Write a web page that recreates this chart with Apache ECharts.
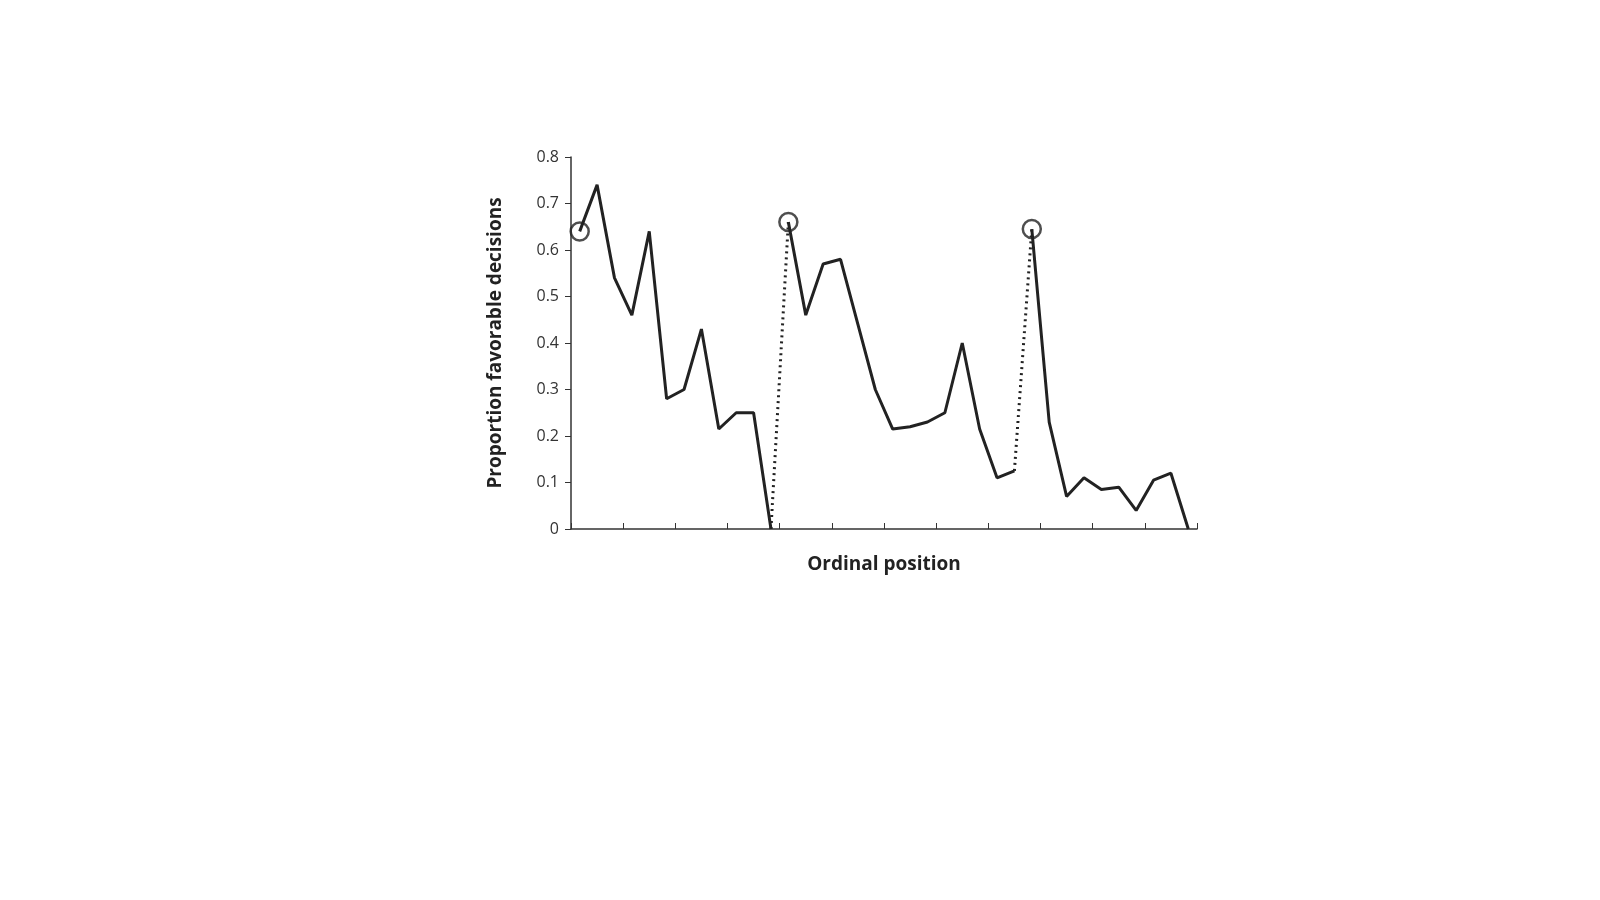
<!DOCTYPE html>
<html lang="en">
<head>
  <meta charset="UTF-8">
  <title>Ordinal position</title>
  <script src="https://cdn.jsdelivr.net/npm/echarts@6/dist/echarts.min.js"></script>
  <style>body{margin:0;background:#fff}</style>
</head>
<body>
  <div id="echarts" style="width:1600px;height:900px"></div>
  <script>
    // proportion favorable decisions, one array per session
    const session1 = [0.64, 0.74, 0.54, 0.46, 0.64, 0.28, 0.30, 0.43, 0.215, 0.25, 0.25, 0.0]
    const session2 = [0.66, 0.46, 0.57, 0.58, 0.44, 0.30, 0.215, 0.22, 0.23, 0.25, 0.40, 0.215, 0.11, 0.125]
    const session3 = [0.645, 0.23, 0.07, 0.11, 0.085, 0.09, 0.04, 0.105, 0.12, 0.0]

    const start2 = session1.length
    const start3 = start2 + session2.length
    const toPts = (arr, off) => arr.map((v, i) => [off + i + 0.5, v])
    const s1 = toPts(session1, 0)
    const s2 = toPts(session2, start2)
    const s3 = toPts(session3, start3)
    const line = { color: '#222', width: 3 }
    const solid = data => ({ type: 'line', data, symbol: 'none', lineStyle: line, z: 3 })
    const dotted = data => ({ type: 'line', data, symbol: 'none', lineStyle: { ...line, type: [2, 4] }, z: 2 })

    const chart = echarts.init(document.querySelector('#echarts'))
    chart.setOption({
      animation: false,
      grid: { left: 571, right: 403, top: 157, bottom: 371 },
      xAxis: {
        type: 'value', min: 0, max: 36, interval: 3,
        name: 'Ordinal position', nameLocation: 'middle', nameGap: 26,
        nameTextStyle: { fontFamily: 'Open Sans', fontSize: 19, fontWeight: 'bold', color: '#222' },
        axisLine: { lineStyle: { color: '#333', width: 1.5 } },
        axisTick: { inside: true, length: 6, lineStyle: { color: '#333' } },
        axisLabel: { show: false },
        splitLine: { show: false }
      },
      yAxis: {
        type: 'value', min: 0, max: 0.8, interval: 0.1,
        name: 'Proportion favorable decisions', nameLocation: 'middle', nameGap: 66,
        nameTextStyle: { fontFamily: 'Open Sans', fontSize: 19, fontWeight: 'bold', color: '#222' },
        axisLine: { show: true, lineStyle: { color: '#333', width: 1.5 } },
        axisTick: { show: true, length: 6, lineStyle: { color: '#333' } },
        axisLabel: { fontFamily: 'Open Sans', fontSize: 16, color: '#333', margin: 12,
          formatter: v => v === 0 ? '0' : v.toFixed(1) },
        splitLine: { show: false }
      },
      series: [
        solid(s1), solid(s2), solid(s3),
        dotted([s1[s1.length - 1], s2[0]]),
        dotted([s2[s2.length - 1], s3[0]]),
        {
          type: 'scatter', data: [s1[0], s2[0], s3[0]], symbol: 'circle', symbolSize: 18,
          itemStyle: { color: 'rgba(0,0,0,0)', borderColor: '#222', borderWidth: 2.5 }, z: 4
        }
      ]
    })
  </script>
</body>
</html>
